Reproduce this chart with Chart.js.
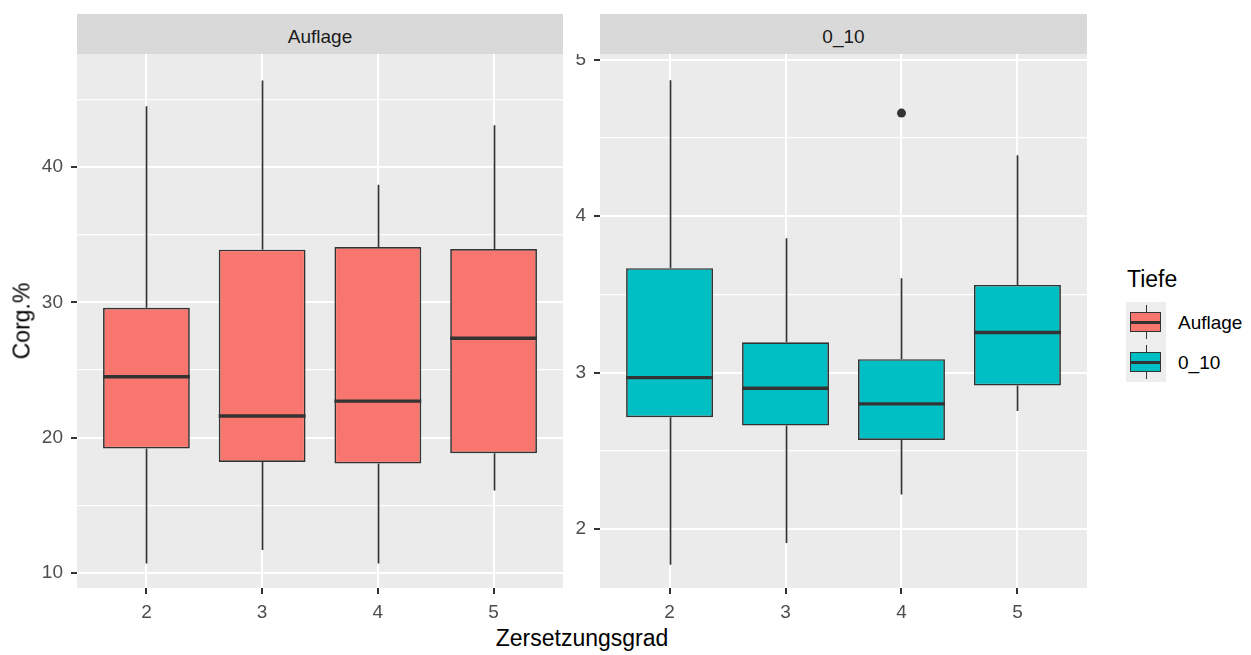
<!DOCTYPE html>
<html><head><meta charset="utf-8">
<script src="https://cdn.jsdelivr.net/npm/chart.js@4.4.1/dist/chart.umd.min.js"></script>
<style>
body{margin:0;background:#fff;width:1251px;height:655px;overflow:hidden;position:relative;font-family:"Liberation Sans",Arial,sans-serif;}
.abs{position:absolute}
.strip{background:#D9D9D9;color:#1A1A1A;font-size:19px;display:flex;align-items:center;justify-content:center;box-sizing:border-box;padding-top:6px;}
.key{position:absolute;left:1126px;width:40px;height:40px;background:#EDEDED;}
.kv{position:absolute;left:19.5px;top:3px;width:1.6px;height:34px;background:#333;}
.kb{position:absolute;left:4px;top:10px;width:31px;height:20px;box-sizing:border-box;border:1.6px solid #333;}
.km{position:absolute;left:4px;top:18.5px;width:31px;height:3px;background:#333;}
.kl{position:absolute;left:1178px;font-size:19px;color:#000;line-height:20px;}
</style></head><body>
<div class="abs strip" style="left:77px;top:14px;width:486px;height:40px">Auflage</div>
<div class="abs strip" style="left:600px;top:14px;width:487px;height:40px">0_10</div>
<canvas id="c1" class="abs" style="left:0;top:54px" width="563" height="571"></canvas>
<canvas id="c2" class="abs" style="left:563px;top:54px" width="524" height="571"></canvas>
<div class="abs" style="left:22px;top:321px;transform:translate(-50%,-50%) rotate(-90deg);font-size:23px;color:#000;white-space:nowrap;line-height:23px">Corg.%</div>
<div class="abs" style="left:582px;top:627px;transform:translateX(-50%);font-size:23px;color:#000;white-space:nowrap;line-height:23px">Zersetzungsgrad</div>
<div class="abs" style="left:1127px;top:268px;font-size:23px;color:#000;line-height:23px">Tiefe</div>
<div class="key" style="top:302px"><div class="kv"></div><div class="kb" style="background:#F8766D"></div><div class="km"></div></div>
<div class="key" style="top:342px"><div class="kv"></div><div class="kb" style="background:#00BFC4"></div><div class="km"></div></div>
<div class="kl" style="top:313px">Auflage</div>
<div class="kl" style="top:353px">0_10</div>
<script>
// Categories (Zersetzungsgrad)
const categories = [2, 3, 4, 5];
// Panel "Auflage"
const aufMin = [10.7, 11.7, 10.7, 16.1];
const aufQ1  = [19.2, 18.2, 18.1, 18.85];
const aufMed = [24.5, 21.6, 22.7, 27.35];
const aufQ3  = [29.6, 33.9, 34.1, 33.95];
const aufMax = [44.5, 46.4, 38.7, 43.1];
const aufOutX = [];
const aufOutY = [];
// Panel "0_10"
const topMin = [1.77, 1.91, 2.22, 2.755];
const topQ1  = [2.715, 2.661, 2.569, 2.917];
const topMed = [2.968, 2.90, 2.80, 3.256];
const topQ3  = [3.668, 3.194, 3.086, 3.561];
const topMax = [4.87, 3.86, 3.604, 4.39];
const topOutX = [4];
const topOutY = [4.66];
// Tick labels
const aufTicks = [10, 15, 20, 25, 30, 35, 40, 45];
const aufMajor = [10, 20, 30, 40];
const topTicks = [2, 2.5, 3, 3.5, 4, 4.5, 5];
const topMajor = [2, 3, 4, 5];

const INK = '#333333';

const bgPlugin = {
  id: 'panelBg',
  beforeDraw(chart) {
    const {ctx, chartArea: a} = chart;
    ctx.save(); ctx.fillStyle = '#EBEBEB';
    ctx.fillRect(a.left, a.top, a.right - a.left, a.bottom - a.top);
    ctx.restore();
  }
};

function boxPlugin(mins, meds, maxs, q1s, q3s) {
  return {
    id: 'boxParts',
    beforeDatasetsDraw(chart) {
      const {ctx, scales: {x, y}} = chart;
      ctx.save(); ctx.strokeStyle = INK; ctx.lineWidth = 1.7;
      categories.forEach((c, i) => {
        const px = Math.round(x.getPixelForValue(c)) + 0.5;
        ctx.beginPath();
        ctx.moveTo(px, y.getPixelForValue(maxs[i])); ctx.lineTo(px, y.getPixelForValue(q3s[i]));
        ctx.moveTo(px, y.getPixelForValue(q1s[i])); ctx.lineTo(px, y.getPixelForValue(mins[i]));
        ctx.stroke();
      });
      ctx.restore();
    },
    afterDatasetsDraw(chart) {
      const {ctx, scales: {x, y}} = chart;
      const meta = chart.getDatasetMeta(0);
      ctx.save(); ctx.strokeStyle = INK; ctx.lineWidth = 3.4;
      categories.forEach((c, i) => {
        const bar = meta.data[i];
        const half = bar.width / 2;
        const px = x.getPixelForValue(c);
        const py = y.getPixelForValue(meds[i]);
        ctx.beginPath(); ctx.moveTo(px - half, py); ctx.lineTo(px + half, py); ctx.stroke();
      });
      ctx.restore();
    }
  };
}

function isMajor(major, c) {
  return !!(c && c.tick && major.includes(c.tick.value));
}

function makePanel(id, color, mins, q1s, meds, q3s, maxs, outX, outY, yMin, yMax, ticks, major, yAxisWidth) {
  const boxes = categories.map((c, i) => ({x: c, y: [q1s[i], q3s[i]]}));
  const outs = outX.map((v, i) => ({x: v, y: outY[i]}));
  new Chart(document.getElementById(id), {
    type: 'bar',
    data: {
      datasets: [
        {type: 'bar', data: boxes, backgroundColor: color, borderColor: INK, borderWidth: 1.7,
         borderSkipped: false, categoryPercentage: 1, barPercentage: 0.75, grouped: false},
        {type: 'scatter', data: outs, pointRadius: 4.5, pointBackgroundColor: INK, pointBorderWidth: 0}
      ]
    },
    options: {
      responsive: false, animation: false, devicePixelRatio: 1,
      layout: {padding: 0, autoPadding: false},
      plugins: {legend: {display: false}, tooltip: {enabled: false}},
      scales: {
        x: {
          type: 'linear', min: 1.4, max: 5.6, offset: false,
          afterBuildTicks: s => { s.ticks = categories.map(v => ({value: v})); },
          afterFit: s => { s.height = 37; s.paddingLeft = 0; s.paddingRight = 0; },
          border: {display: false},
          grid: {offset: false, color: '#FFFFFF', lineWidth: 2, tickColor: INK, tickLength: 6, tickWidth: 2},
          ticks: {color: '#4D4D4D', font: {family: 'Liberation Sans', size: 19}, padding: 7,
                  maxRotation: 0, autoSkip: false, callback: v => String(v)}
        },
        y: {
          type: 'linear', min: yMin, max: yMax,
          afterBuildTicks: s => { s.ticks = ticks.map(v => ({value: v})); },
          afterFit: s => { s.width = yAxisWidth; s.paddingTop = 0; s.paddingBottom = 0; },
          border: {display: false},
          grid: {color: '#FFFFFF',
                 lineWidth: c => isMajor(major, c) ? 2 : 1.3,
                 tickColor: c => isMajor(major, c) ? INK : 'rgba(0,0,0,0)',
                 tickLength: 6, tickWidth: 2},
          ticks: {color: '#4D4D4D', font: {family: 'Liberation Sans', size: 19}, padding: 8,
                  autoSkip: false,
                  callback: v => major.includes(v) ? String(v) : ''}
        }
      }
    },
    plugins: [bgPlugin, boxPlugin(mins, meds, maxs, q1s, q3s)]
  });
}

makePanel('c1', '#F8766D', aufMin, aufQ1, aufMed, aufQ3, aufMax, aufOutX, aufOutY, 8.89, 48.36, aufTicks, aufMajor, 77);
makePanel('c2', '#00BFC4', topMin, topQ1, topMed, topQ3, topMax, topOutX, topOutY, 1.622, 5.038, topTicks, topMajor, 37);
</script>
</body></html>
